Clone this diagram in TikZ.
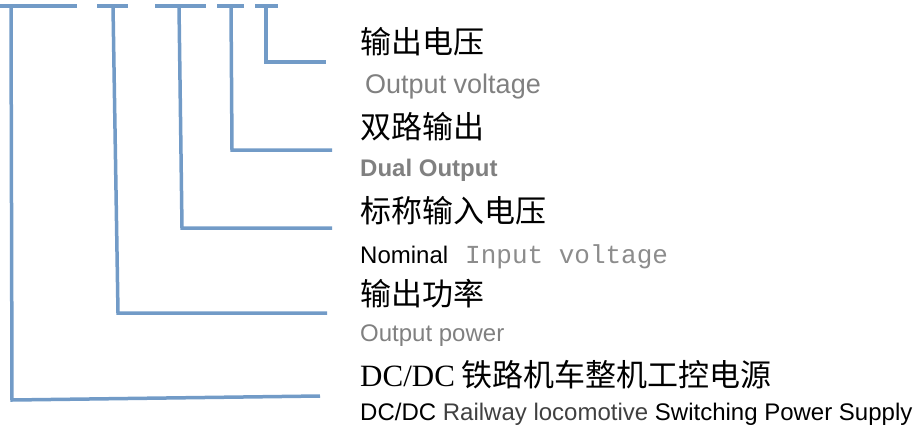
\documentclass[tikz,border=0pt]{standalone}
\usepackage{fontspec}
\setmainfont{Liberation Serif}
\setsansfont{Liberation Sans}
\setmonofont{Liberation Mono}
\newfontfamily\cjk{Noto Sans CJK SC}
\usetikzlibrary{calc}
\definecolor{leadblue}{RGB}{114,155,199}
\definecolor{txtgray}{RGB}{128,128,128}
\definecolor{txtlight}{RGB}{140,140,140}
\definecolor{txtdark}{RGB}{64,64,64}
\tikzset{
  lead/.style={draw=leadblue,line width=3.5pt},
  cnlabel/.style={anchor=base west,inner sep=0pt,font=\cjk\fontsize{31}{31}\selectfont},
  enlabel/.style={anchor=base west,inner sep=0pt,font=\sffamily\fontsize{24}{24}\selectfont,text=txtgray}
}

\begin{document}
\begin{tikzpicture}[x=1pt,y=-1pt]
  \useasboundingbox (0,0) rectangle (913,436);
  % leader brackets: number/bar left/bar right/stem top/stem foot/corner y/end x/end y
  \foreach \n/\bl/\br/\st/\sf/\cy/\ex/\ey in {
      1/0/77/11/12/400/320/396,
      2/97/128/113/118/313/327/313,
      3/155/206/179/182/228/332/228,
      4/217/244/231/232/150/332/150,
      5/255/278/266/266/62/326/62}{
    \coordinate (barl\n) at (\bl,6);
    \coordinate (barr\n) at (\br,6);
    \coordinate (top\n) at (\st,6);
    \coordinate (foot\n) at (\sf,\cy);
    \coordinate (end\n) at (\ex,\ey);
    \draw[lead] (barl\n)--(barr\n);
    \draw[lead,line join=miter] (top\n)--(foot\n)--(end\n);
  }
  % labels
  \node[cnlabel] (vout) at (360,54) {输出电压};
  \node[enlabel,font=\sffamily\fontsize{27}{27}\selectfont] (voutE) at (365,93) {Output voltage};
  \node[cnlabel] (dual) at (360,138) {双路输出};
  \node[enlabel,font=\sffamily\bfseries\fontsize{24}{24}\selectfont] (dualE) at (360,176) {Dual Output};
  \node[cnlabel] (vin) at (360,222) {标称输入电压};
  \node[enlabel,text=black] (vinE) at (360,263) {Nominal\hspace{17pt}{\ttfamily\fontsize{26}{26}\selectfont\color{txtlight}Input voltage}};
  \node[cnlabel] (pout) at (360,305) {输出功率};
  \node[enlabel] (poutE) at (360,341) {Output power};
  \node[cnlabel] (name) at (360,386) {{\rmfamily DC/DC} 铁路机车整机工控电源};
  \node[enlabel,text=black] (nameE) at (360,420) {DC/DC {\color{txtdark}Railway locomotive} Switching Power Supply};
\end{tikzpicture}
\end{document}
